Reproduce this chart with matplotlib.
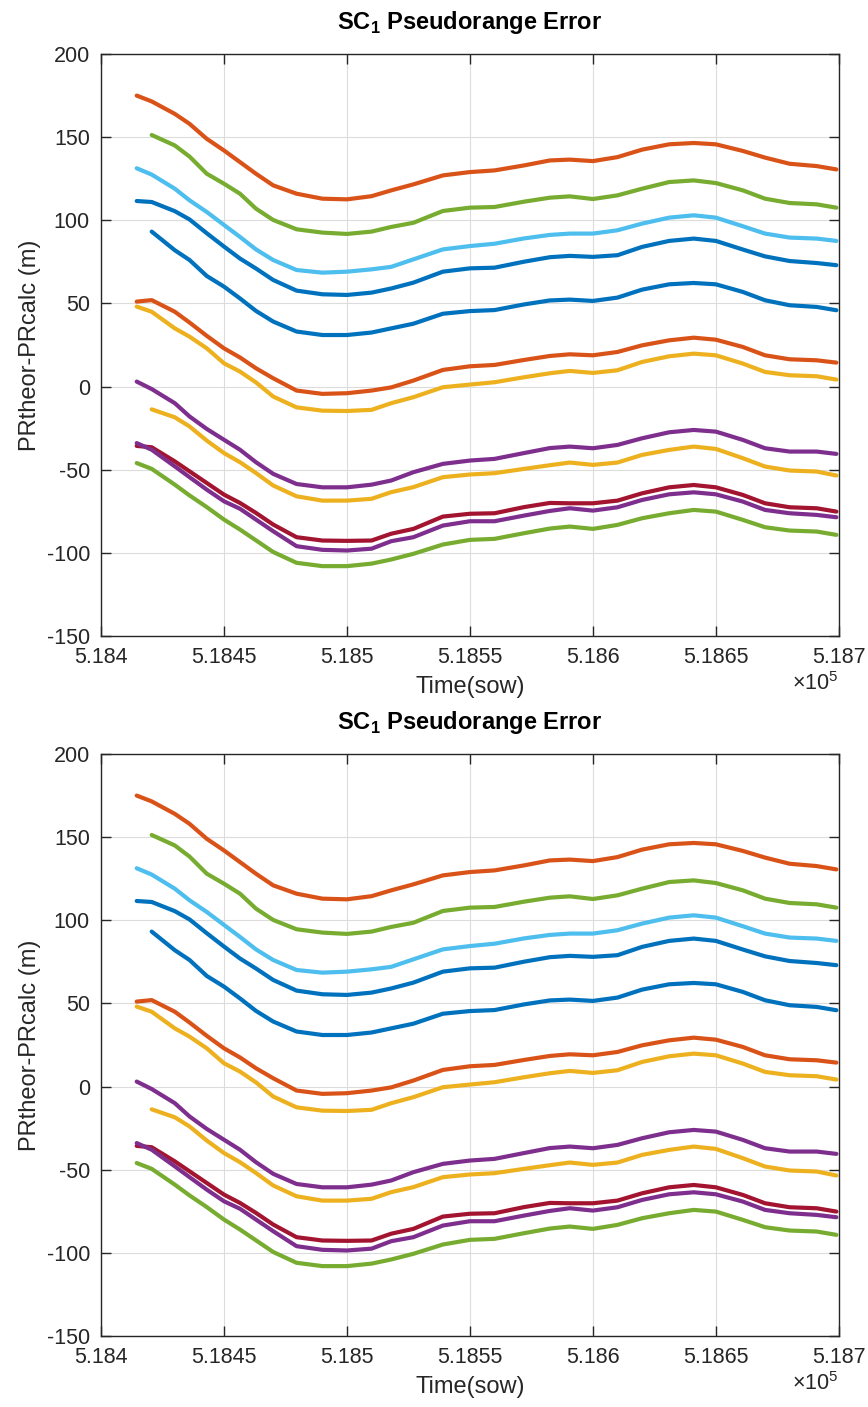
import matplotlib
matplotlib.use("Agg")
import matplotlib.pyplot as plt
import numpy as np
from matplotlib.ticker import FuncFormatter

plt.rcParams['font.family'] = ['Liberation Sans', 'DejaVu Sans']
plt.rcParams['mathtext.fontset'] = 'custom'
plt.rcParams['mathtext.rm'] = 'Liberation Sans'
plt.rcParams['mathtext.bf'] = 'Liberation Sans:bold'
plt.rcParams['axes.unicode_minus'] = False

# time (seconds of week)
t = np.array([518414.5, 518420.6, 518430, 518436, 518443, 518450, 518456.5, 518463,
              518470, 518479.5, 518490, 518500, 518510, 518518, 518527, 518539,
              518550, 518560, 518572, 518582.5, 518590.6, 518600, 518610, 518620,
              518631, 518641, 518650, 518661, 518670, 518680, 518691, 518699])

nan = np.nan
# pseudorange error per satellite (m), in plotting order
pr_blue_lo = [nan, 93.2, 82, 76.1, 66.5, 60.1, 53, 45.5, 39.1, 33.1, 31, 31, 32.5, 35, 37.8, 43.8,
              45.4, 46, 49.4, 51.8, 52.3, 51.5, 53.5, 58.3, 61.5, 62.3, 61.5, 56.9, 51.9, 48.9, 47.9, 45.9]
pr_orange_lo = [51.1, 52, 45, 38.5, 30.5, 23, 17.5, 11, 5, -2.4, -4.4, -4, -2.4, -0.5, 3.6, 10,
                12.2, 13, 16, 18.4, 19.4, 18.8, 20.8, 24.8, 27.8, 29.4, 28.2, 23.8, 18.8, 16.4, 15.8, 14.4]
pr_yellow_hi = [48.1, 45, 35, 30, 23, 14, 9, 2.5, -6, -12.5, -14.5, -14.7, -14, -10, -6.4, -0.4,
                1.2, 2.6, 5.6, 8, 9.4, 8.2, 9.8, 14.8, 18.2, 19.8, 18.8, 13.8, 8.8, 6.8, 6.2, 4.2]
pr_purple_hi = [3, -1.5, -10, -18, -25.5, -32, -38, -45.5, -52.5, -58.6, -60.6, -60.6, -59, -56.5, -51.5, -46.5,
                -44.5, -43.5, -40, -37, -36.1, -37.1, -35.1, -31.1, -27.5, -26.1, -27.1, -32.1, -37.1, -39.1, -39.1, -40.5]
pr_green_hi = [nan, 151.3, 145, 138.3, 128, 122, 116, 107, 100.2, 94.6, 92.6, 91.8, 93.2, 96, 98.5, 105.6,
               107.6, 108, 111.2, 113.6, 114.4, 112.8, 115, 119, 123, 124, 122.4, 118, 113, 110.4, 109.6, 107.6]
pr_lightblue = [131.3, 127.5, 119, 112, 105, 97.2, 90, 82.5, 76.1, 70.1, 68.5, 69.1, 70.5, 72, 76.5, 82.5,
                84.5, 85.9, 89.1, 91.2, 92, 92, 94, 98, 101.6, 103, 101.6, 96.4, 92, 89.6, 89, 87.6]
pr_darkred = [-35.7, -36.5, -45, -51, -58, -65, -70, -76, -83, -90.6, -92.6, -92.8, -92.6, -88.5, -85.6, -78.2,
              -76.5, -76.2, -72.5, -70, -70.2, -70.2, -68.6, -64.2, -60.6, -59.2, -60.6, -65.2, -70.2, -72.6, -73.2, -75.2]
pr_blue_hi = [111.6, 111, 105.5, 100.5, 92.2, 84.2, 77, 71, 64.1, 57.7, 55.5, 55.1, 56.5, 59, 62.5, 69.1,
              71.1, 71.5, 75.1, 77.8, 78.6, 78, 79, 84, 87.6, 89, 87.6, 82.4, 78.3, 75.5, 74.3, 73]
pr_orange_hi = [175, 171.5, 164, 158, 149, 142, 135, 128, 121, 116, 113, 112.6, 114.5, 118, 121.6, 127,
                129, 130, 133, 136, 136.5, 135.6, 138, 142.5, 145.7, 146.5, 145.7, 141.7, 137.7, 134, 132.6, 130.6]
pr_yellow_lo = [nan, -13.7, -18.5, -24, -32.5, -40, -45.5, -52, -59.5, -66, -68.6, -68.6, -67.5, -63.5, -60.5, -54.5,
                -52.9, -52.1, -49.5, -47.3, -45.7, -47.1, -45.7, -41.1, -38.1, -36.1, -37.5, -43.1, -48.1, -50.5, -51.1, -53.5]
pr_purple_lo = [-34, -38, -48, -54.5, -62, -69, -73.5, -80, -87, -96, -98.2, -98.6, -97.5, -93, -90.6, -83.6,
                -81, -81, -77.6, -74.8, -73.2, -74.6, -72.6, -68.2, -64.8, -63.6, -64.8, -69.2, -74.2, -76.2, -77.2, -78.6]
pr_green_lo = [-46, -49.5, -59, -65.5, -72.5, -80, -86, -92.5, -99.5, -106, -108, -108, -106.5, -104, -100.6, -95,
               -92.2, -91.6, -88.2, -85.4, -84.2, -85.6, -83.2, -79.2, -76.2, -74.2, -75.2, -80.2, -84.6, -86.6, -87.2, -89.2]

series = [pr_blue_lo, pr_orange_lo, pr_yellow_hi, pr_purple_hi, pr_green_hi, pr_lightblue,
          pr_darkred, pr_blue_hi, pr_orange_hi, pr_yellow_lo, pr_purple_lo, pr_green_lo]

# matlab default line colours
colors = ['#0072BD', '#D95319', '#EDB120', '#7E2F8E', '#77AC30', '#4DBEEE', '#A2142F']

xticks = [518400, 518450, 518500, 518550, 518600, 518650, 518700]
yticks = [-150, -100, -50, 0, 50, 100, 150, 200]


def draw(ax):
    for i, y in enumerate(series):
        ax.plot(t, y, color=colors[i % len(colors)], lw=3.0,
                solid_joinstyle='round', solid_capstyle='round')
    ax.set_xlim(518400, 518700)
    ax.set_ylim(-150, 200)
    ax.set_xticks(xticks)
    ax.set_yticks(yticks)
    ax.xaxis.set_major_formatter(FuncFormatter(lambda v, p: f"{v / 1e5:g}"))
    ax.grid(True, color='#dcdcdc', lw=0.8)
    ax.set_axisbelow(True)
    ax.tick_params(direction='in', length=7, width=1, colors='#262626',
                   labelsize=15.5, top=True, right=True)
    ax.tick_params(axis='x', pad=8)
    ax.tick_params(axis='y', pad=8)
    for s in ax.spines.values():
        s.set_color('#262626')
        s.set_linewidth(1.0)
    ax.set_title(r"SC$_\mathbf{1}$ Pseudorange Error", fontsize=17,
                 fontweight='bold', color='black', pad=18)
    ax.set_xlabel("Time(sow)", fontsize=17, color='#262626', labelpad=6)
    ax.set_ylabel("PRtheor-PRcalc (m)", fontsize=17, color='#262626', labelpad=4)
    ax.text(1.0, -0.082, r"$\times$10$^5$", transform=ax.transAxes,
            ha='right', va='center', fontsize=15.5, color='#262626')


fig = plt.figure(figsize=(8.68, 14.07), dpi=100)
ax1 = fig.add_axes([0.1164, 0.548, 0.850, 0.4136])
ax2 = fig.add_axes([0.1164, 0.0505, 0.850, 0.4136])
draw(ax1)
draw(ax2)

fig.savefig("out.png", dpi=100, facecolor='white')
